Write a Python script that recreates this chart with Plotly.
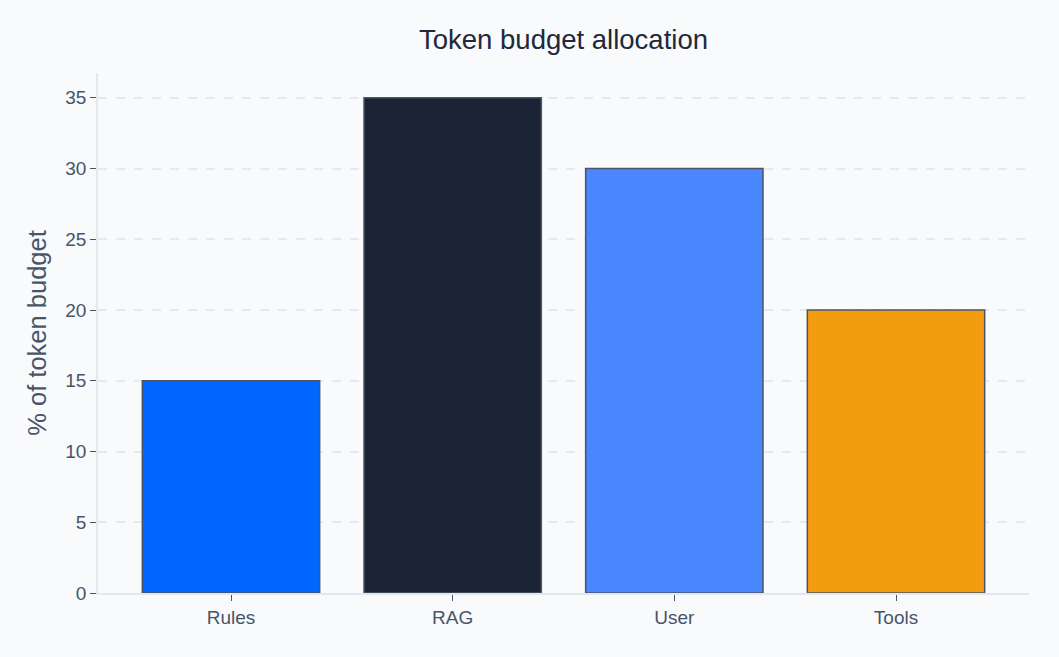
import plotly.graph_objects as go

categories = ["Rules", "RAG", "User", "Tools"]
values = [15, 35, 30, 20]
colors = ["#0066ff", "#1b2434", "#4a86ff", "#f39c0f"]

fig = go.Figure(go.Bar(
    x=categories, y=values, width=0.8,
    marker=dict(color=colors, line=dict(color="#4b5563", width=1.5)),
))

fig.update_layout(
    width=1059, height=657,
    margin=dict(l=98, r=30, t=73, b=64),
    paper_bgcolor="#f8fafc", plot_bgcolor="#f8fafc",
    font=dict(family="Liberation Sans, Arial, sans-serif", color="#475569", size=19),
    title=dict(text="Token budget allocation", x=0.5, xref="paper", y=0.94, yref="container",
               xanchor="center", yanchor="middle",
               font=dict(size=27.5, color="#1e293b")),
    showlegend=False,
)
fig.update_xaxes(range=[-0.6, 3.6], showline=True, linecolor="#e2e8f0", linewidth=1.5,
                 ticks="outside", ticklen=6, tickcolor="#475569", showgrid=False,
                 tickfont=dict(size=19))
fig.update_yaxes(range=[0, 36.75], dtick=5, showline=True, linecolor="#e2e8f0", linewidth=1.5,
                 ticks="outside", ticklen=6, tickcolor="#475569",
                 showgrid=True, gridcolor="#e6eaf0", griddash="dash", gridwidth=1.5,
                 zeroline=False,
                 title=dict(text="% of token budget", font=dict(size=25.5), standoff=11),
                 tickfont=dict(size=19))

fig.write_html("out.html")
